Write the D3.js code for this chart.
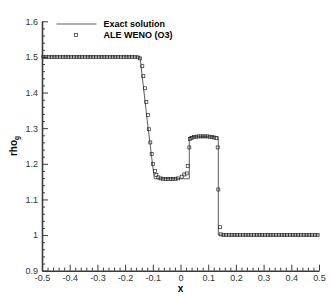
<!DOCTYPE html>
<html>
<head>
<meta charset="utf-8">
<script src="https://cdn.jsdelivr.net/npm/d3@7"></script>
<style>
  body { margin: 0; background: #fff; }
  svg { display: block; font-family: Arial, "Liberation Sans", Helvetica, sans-serif; }
</style>
</head>
<body>
<svg id="chart" width="332" height="296"></svg>
<script>
// exact solution (piecewise)
var exactX   = [-0.5, -0.1462, -0.1206, -0.0946, 0.0318, 0.0318, 0.1365, 0.1365, 0.5];
var exactRho = [ 1.5,  1.5,     1.325,   1.158,  1.158,  1.276,  1.276,  1.0,    1.0];

// ALE WENO (O3) markers
var weX = [
  -0.495,-0.485,-0.475,-0.465,-0.455,-0.445,-0.435,-0.425,-0.415,-0.405,
  -0.395,-0.385,-0.375,-0.365,-0.355,-0.345,-0.335,-0.325,-0.315,-0.305,
  -0.295,-0.285,-0.275,-0.265,-0.255,-0.245,-0.235,-0.225,-0.215,-0.205,
  -0.195,-0.185,-0.175,-0.165,-0.155,
  -0.1462,-0.1379,-0.1343,-0.1282,-0.1235,-0.1173,-0.1137,-0.1090,-0.1040,-0.0993,
  -0.0921,-0.0874,-0.0801,
  -0.072,-0.063,-0.054,-0.045,-0.036,-0.027,-0.018,-0.009,
  0.0043,0.0137,0.0224,0.0260,0.0318,0.0343,
  0.041,0.049,0.057,0.065,0.073,0.081,0.089,0.097,0.105,0.113,0.121,0.129,
  0.1343,0.1365,0.1426,0.1462,
  0.155,0.165,0.175,0.185,0.195,0.205,0.215,0.225,0.235,0.245,
  0.255,0.265,0.275,0.285,0.295,0.305,0.315,0.325,0.335,0.345,
  0.355,0.365,0.375,0.385,0.395,0.405,0.415,0.425,0.435,0.445,
  0.455,0.465,0.475,0.485,0.495
];
var weRho = [
  1.5,1.5,1.5,1.5,1.5,1.5,1.5,1.5,1.5,1.5,
  1.5,1.5,1.5,1.5,1.5,1.5,1.5,1.5,1.5,1.5,
  1.5,1.5,1.5,1.5,1.5,1.5,1.5,1.5,1.5,1.5,
  1.5,1.5,1.5,1.5,1.499,
  1.496,1.474,1.446,1.412,1.374,1.337,1.297,1.260,1.228,1.200,
  1.180,1.169,1.162,
  1.159,1.158,1.157,1.157,1.157,1.157,1.158,1.159,
  1.164,1.170,1.173,1.194,1.246,1.270,
  1.273,1.275,1.276,1.277,1.277,1.277,1.277,1.277,1.276,1.275,1.274,1.272,
  1.246,1.128,1.022,1.002,
  1.0,1.0,1.0,1.0,1.0,1.0,1.0,1.0,1.0,1.0,
  1.0,1.0,1.0,1.0,1.0,1.0,1.0,1.0,1.0,1.0,
  1.0,1.0,1.0,1.0,1.0,1.0,1.0,1.0,1.0,1.0,
  1.0,1.0,1.0,1.0,1.0
];

var xTicks = [-0.5,-0.4,-0.3,-0.2,-0.1,0,0.1,0.2,0.3,0.4,0.5];
var xTickLabels = ["-0.5","-0.4","-0.3","-0.2","-0.1","0","0.1","0.2","0.3","0.4","0.5"];
var yTicks = [0.9,1.0,1.1,1.2,1.3,1.4,1.5,1.6];
var yTickLabels = ["0.9","1","1.1","1.2","1.3","1.4","1.5","1.6"];

var legendNames = ["Exact solution", "ALE WENO (O3)"];

var svg = d3.select("#chart");
var plotLeft = 42, plotRight = 319, plotTop = 21.3, plotBottom = 270.7;

var x = d3.scaleLinear().domain([-0.5, 0.5]).range([plotLeft, plotRight]);
var y = d3.scaleLinear().domain([0.9, 1.6]).range([plotBottom, plotTop]);

var axisColor = "#3a3a3a";

// minor ticks (every 0.02)
var xMinor = [], yMinor = [];
for (var i = 0; i <= 50; i++) { if (i % 5) xMinor.push(-0.5 + i * 0.02); }
for (var j = 0; j <= 35; j++) { if (j % 5) yMinor.push(0.9 + j * 0.02); }

svg.append("g")
    .attr("transform", "translate(0," + plotBottom + ")")
    .call(d3.axisBottom(x).tickValues(xMinor).tickSize(-3).tickFormat(""))
    .call(function (g) { g.select(".domain").remove(); });
svg.append("g")
    .attr("transform", "translate(" + plotLeft + ",0)")
    .call(d3.axisLeft(y).tickValues(yMinor).tickSize(-3).tickFormat(""))
    .call(function (g) { g.select(".domain").remove(); });

var gx = svg.append("g")
    .attr("transform", "translate(0," + plotBottom + ")")
    .call(d3.axisBottom(x).tickValues(xTicks).tickSize(-6).tickSizeOuter(0).tickPadding(4)
        .tickFormat(function (d, i) { return xTickLabels[i]; }));
var gy = svg.append("g")
    .attr("transform", "translate(" + plotLeft + ",0)")
    .call(d3.axisLeft(y).tickValues(yTicks).tickSize(-6).tickSizeOuter(0).tickPadding(4)
        .tickFormat(function (d, i) { return yTickLabels[i]; }));

[gx, gy].forEach(function (g) {
    g.select(".domain").attr("stroke", axisColor).attr("stroke-width", 1.6);
    g.selectAll("text").attr("fill", "#333").style("font-size", "9px")
        .style("font-family", "Arial, 'Liberation Sans', sans-serif");
});
svg.selectAll(".tick line").attr("stroke", axisColor).attr("stroke-width", 1);

// axis titles
svg.append("text")
    .attr("x", x(0)).attr("y", 292)
    .attr("text-anchor", "middle")
    .style("font-size", "10px").style("font-weight", "bold")
    .text("x");

var yl = svg.append("text")
    .attr("transform", "translate(16.5," + ((plotTop + plotBottom) / 2) + ") rotate(-90)")
    .attr("text-anchor", "middle")
    .style("font-size", "10px").style("font-weight", "bold");
yl.append("tspan").text("rho");
yl.append("tspan").attr("dy", 2.5).style("font-size", "6.5px").text("g");

// exact solution
var exactData = exactX.map(function (v, i) { return [v, exactRho[i]]; });
svg.append("path")
    .datum(exactData)
    .attr("fill", "none")
    .attr("stroke", "#333")
    .attr("stroke-width", 0.8)
    .attr("d", d3.line().x(function (d) { return x(d[0]); }).y(function (d) { return y(d[1]); }));

// numerical markers
var ms = 3;
var weData = weX.map(function (v, i) { return [v, weRho[i]]; });
svg.append("g").selectAll("rect")
    .data(weData)
    .enter()
    .append("rect")
    .attr("x", function (d) { return x(d[0]) - ms / 2; })
    .attr("y", function (d) { return y(d[1]) - ms / 2; })
    .attr("width", ms).attr("height", ms)
    .attr("fill", "none")
    .attr("stroke", "#2a2a2a")
    .attr("stroke-width", 0.7);

// legend
var lg = svg.append("g");
lg.append("line")
    .attr("x1", 56.5).attr("x2", 96.5).attr("y1", 24).attr("y2", 24)
    .attr("stroke", "#333").attr("stroke-width", 0.8);
lg.append("rect")
    .attr("x", 76 - ms / 2).attr("y", 35 - ms / 2).attr("width", ms).attr("height", ms)
    .attr("fill", "none").attr("stroke", "#2a2a2a").attr("stroke-width", 0.7);
lg.selectAll("text")
    .data(legendNames)
    .enter()
    .append("text")
    .attr("x", 103.5)
    .attr("y", function (d, i) { return 24 + i * 11; })
    .attr("dy", "0.35em")
    .style("font-size", "9px").style("font-weight", "bold")
    .text(function (d) { return d; });
</script>
</body>
</html>
